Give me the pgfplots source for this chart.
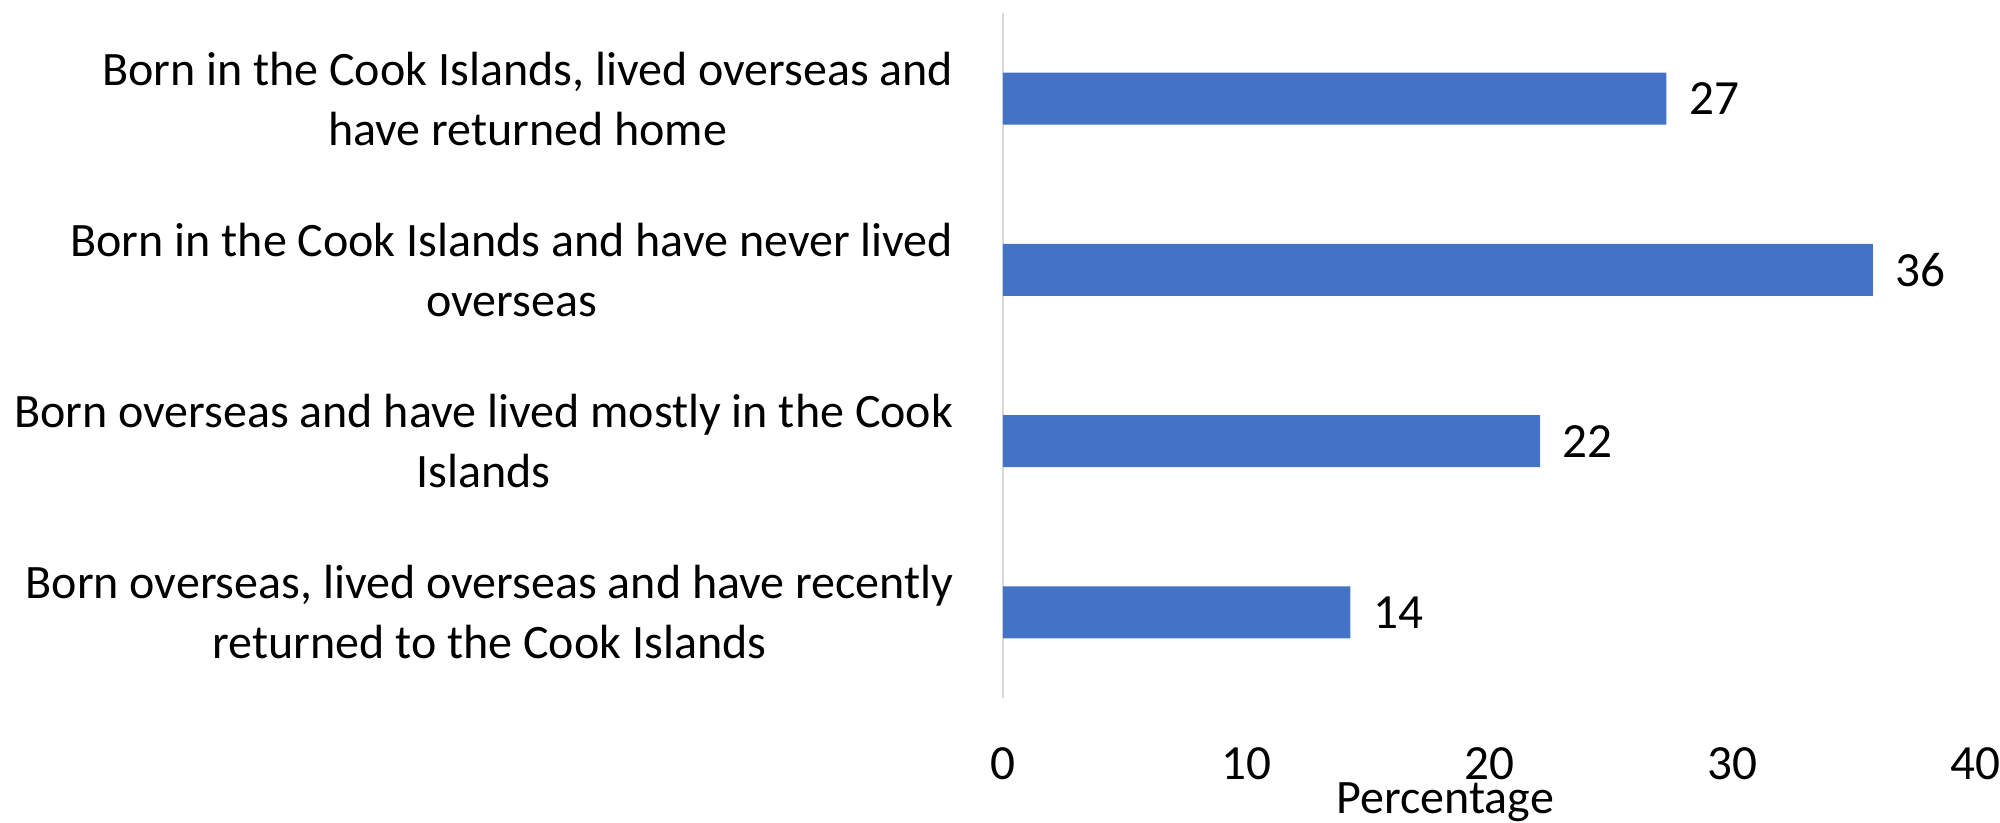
\documentclass[border=0pt]{standalone}
\usepackage{pgfplots}
\pgfplotsset{compat=1.18}
\usepackage{fontspec}
\setmainfont{Carlito}
\definecolor{barblue}{HTML}{4472C4}
\definecolor{axgray}{HTML}{D9D9D9}
\begin{document}
\fontsize{12}{15}\selectfont
\begin{tikzpicture}
\path[use as bounding box] (-250.75pt,-31.25pt) rectangle (249.25pt,174.5pt);
\begin{axis}[
  at={(0,0)}, anchor=south west,
  scale only axis, width=243pt, height=171.25pt,
  xbar, bar width=13pt,
  xmin=0, xmax=40, ymin=-0.5, ymax=3.5,
  xtick={0,10,20,30,40},
  ytick={0,1,2,3},
  yticklabels={{Born overseas, lived overseas and have recently\\returned to the Cook Islands},
               {Born overseas and have lived mostly in the Cook\\Islands},
               {Born in the Cook Islands and have never lived\\overseas},
               {Born in the Cook Islands, lived overseas and\\have returned home}},
  yticklabel style={align=center, anchor=east, inner sep=0pt, xshift=-12.25pt, font=\fontsize{12}{15}\selectfont},
  xticklabel style={anchor=base, inner sep=0pt, yshift=-20.3pt, font=\fontsize{12.3}{15}\selectfont},
  /pgf/number format/assume math mode=true,
  axis lines*=left, axis line style={-},
  x axis line style={draw=none},
  y axis line style={draw=axgray, line width=0.5pt},
  major tick length=0pt,
  tick style={draw=none},
  xlabel={Percentage},
  xlabel style={at={(axis description cs:0.455,0)}, anchor=base, yshift=-28.8pt, inner sep=0pt, font=\fontsize{12}{15}\selectfont},
  nodes near coords,
  nodes near coords style={anchor=west, xshift=1.5pt, font=\fontsize{12.3}{15}\selectfont, /pgf/number format/.cd, fixed, precision=0, assume math mode=true},
  clip=false,
]
\addplot[fill=barblue, draw=none] coordinates {(14.3,0) (22.1,1) (35.8,2) (27.3,3)};
\end{axis}
\end{tikzpicture}
\end{document}
